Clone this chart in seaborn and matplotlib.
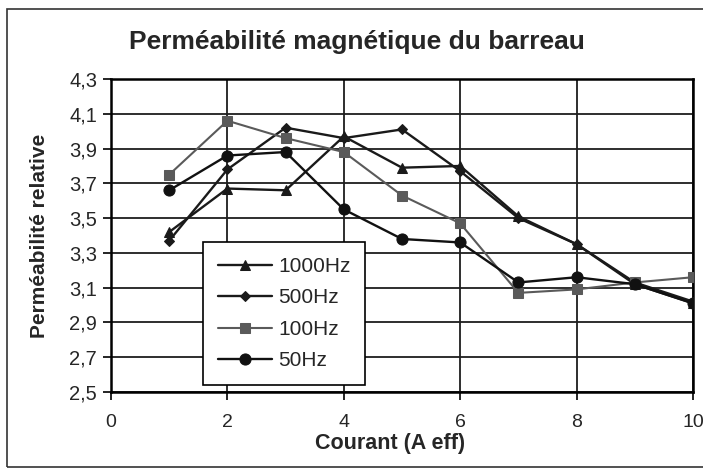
import matplotlib
matplotlib.use("Agg")
import matplotlib.pyplot as plt
import matplotlib.patches as mpatches
import numpy as np
import pandas as pd
import seaborn as sns

# Measured relative permeability of the bar vs. RMS current, per frequency
courant = [1, 2, 3, 4, 5, 6, 7, 8, 9, 10]
perm_1000hz = [3.42, 3.67, 3.66, 3.97, 3.79, 3.80, 3.51, 3.35, 3.12, 3.01]
perm_500hz = [3.37, 3.78, 4.02, 3.96, 4.01, 3.77, 3.50, 3.35, 3.13, 3.02]
perm_100hz = [3.75, 4.06, 3.96, 3.88, 3.63, 3.47, 3.07, 3.09, 3.13, 3.16]
perm_50hz = [3.66, 3.86, 3.88, 3.55, 3.38, 3.36, 3.13, 3.16, 3.12, 3.01]

series_names = ["1000Hz", "500Hz", "100Hz", "50Hz"]
yticks = [2.5, 2.7, 2.9, 3.1, 3.3, 3.5, 3.7, 3.9, 4.1, 4.3]
xticks = [0, 2, 4, 6, 8, 10]

df = pd.DataFrame({
    "courant": courant * 4,
    "perm": perm_1000hz + perm_500hz + perm_100hz + perm_50hz,
    "serie": sum([[n] * len(courant) for n in series_names], []),
})

sns.set_theme(style="white")
plt.rcParams["font.family"] = ["Liberation Sans", "DejaVu Sans"]

fig = plt.figure(figsize=(7.03, 4.70), dpi=100)
ax = fig.add_axes([111 / 703, 1 - 392 / 470, 582 / 703, 313 / 470])

styles = {
    "1000Hz": dict(color="#1a1a1a", marker="^", ms=7, lw=1.7),
    "500Hz": dict(color="#1a1a1a", marker="D", ms=5, lw=1.7),
    "100Hz": dict(color="#5a5a5a", marker="s", ms=7, lw=1.5),
    "50Hz": dict(color="#111111", marker="o", ms=8, lw=1.7),
}

for name in series_names:
    st = styles[name]
    sub = df[df["serie"] == name]
    sns.lineplot(data=sub, x="courant", y="perm", ax=ax, color=st["color"],
                 marker=st["marker"], markersize=st["ms"], linewidth=st["lw"],
                 markeredgecolor=st["color"], markerfacecolor=st["color"],
                 label=name, zorder=3)

ax.set_xlim(0, 10)
ax.set_ylim(2.5, 4.3)
ax.set_xticks(xticks)
ax.set_yticks(yticks)
ax.set_xticklabels([str(t) for t in xticks], fontsize=14)
ax.set_yticklabels([f"{t:.1f}".replace(".", ",") for t in yticks], fontsize=14.5)
ax.tick_params(axis="both", direction="out", length=6, width=1.2, color="black",
               bottom=True, left=True)
ax.tick_params(axis="y", pad=4)
ax.tick_params(axis="x", pad=10)

ax.grid(True, color="#1e1e1e", linewidth=1.3)
ax.set_axisbelow(True)
for sp in ax.spines.values():
    sp.set_color("black")
    sp.set_linewidth(1.8)
    sp.set_visible(True)

ax.set_xlabel("Courant (A eff)", fontsize=15.5, fontweight="bold")
ax.xaxis.set_label_coords((390 - 111) / 582, -41 / 313)
ax.set_ylabel("Perméabilité relative", fontsize=15, fontweight="bold")
ax.yaxis.set_label_coords(-(111 - 49) / 582, 0.5)

fig.text(357 / 703, 1 - 42 / 470, "Perméabilité magnétique du barreau",
         ha="center", va="center", fontsize=19, fontweight="bold")

leg = ax.legend(loc="lower left", bbox_to_anchor=((203 - 111) / 582, 7 / 313),
                frameon=True, fancybox=False, fontsize=15, handlelength=2.6,
                labelspacing=0.6, borderpad=0.7, handletextpad=0.3,
                borderaxespad=0)
leg.get_frame().set_edgecolor("black")
leg.get_frame().set_linewidth(1.2)
leg.get_frame().set_facecolor("white")
leg.get_frame().set_alpha(1)

# outer chart frame
frame = mpatches.Rectangle((7 / 703, 1 - 467 / 470), 800 / 703, 458 / 470,
                           transform=fig.transFigure, fill=False,
                           edgecolor="#333333", linewidth=1.2)
fig.patches.append(frame)

fig.savefig("out.png", dpi=100, facecolor="white")
